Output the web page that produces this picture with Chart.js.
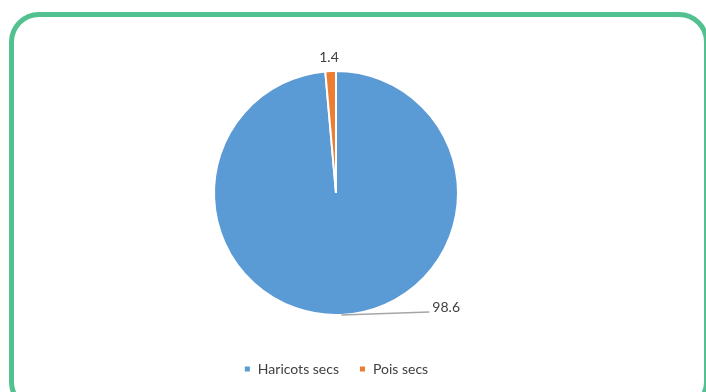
<!DOCTYPE html>
<html lang="fr">
<head>
<meta charset="UTF-8">
<title>Haricots secs / Pois secs</title>
<script src="https://cdn.jsdelivr.net/npm/chart.js"></script>
<style>
    body {
        margin: 0;
        padding: 0;
        background: #fff;
        width: 706px;
        height: 392px;
        overflow: hidden;
        position: relative;
    }
    .cadre {
        position: absolute;
        left: 9px;
        top: 12px;
        width: 700px;
        height: 400px;
        border: 5px solid #52C18F;
        border-radius: 30px;
        box-sizing: border-box;
    }
    #graph {
        position: absolute;
        left: 0;
        top: 0;
    }
</style>
</head>
<body>
<div class="cadre"></div>
<canvas id="graph" width="706" height="392"></canvas>
<script>
    // Données
    var categories = ['Haricots secs', 'Pois secs'];
    var valeurs = [98.6, 1.4];
    var couleurs = ['#5B9BD5', '#ED7D31'];

    var police = 'Lato, "Open Sans", sans-serif';
    var gris = '#404040';

    // Étiquettes de données (valeurs à l'extérieur du camembert)
    var etiquettes = {
        id: 'etiquettes',
        afterDatasetsDraw: function(chart) {
            var ctx = chart.ctx;
            var meta = chart.getDatasetMeta(0);
            ctx.save();
            ctx.font = '14px ' + police;
            ctx.fillStyle = gris;
            meta.data.forEach(function(arc, i) {
                var p = arc.getProps(['x', 'y', 'startAngle', 'endAngle', 'outerRadius'], true);
                var a = (p.startAngle + p.endAngle) / 2;
                var texte = String(valeurs[i]);
                if (p.endAngle - p.startAngle > Math.PI) {
                    // grande part : ligne de rappel vers la droite
                    var x0 = p.x + Math.cos(a) * p.outerRadius;
                    var y0 = p.y + Math.sin(a) * p.outerRadius;
                    ctx.strokeStyle = '#A6A6A6';
                    ctx.lineWidth = 1.5;
                    ctx.beginPath();
                    ctx.moveTo(x0, y0);
                    ctx.lineTo(x0 + 88, y0 - 3);
                    ctx.stroke();
                    ctx.textAlign = 'left';
                    ctx.textBaseline = 'middle';
                    ctx.fillText(texte, x0 + 91, y0 - 7);
                } else {
                    var r = p.outerRadius + 14;
                    ctx.textAlign = 'center';
                    ctx.textBaseline = 'middle';
                    ctx.fillText(texte, p.x + Math.cos(a) * r - 1, p.y + Math.sin(a) * r);
                }
            });
            ctx.restore();
        }
    };

    var ctx = document.getElementById('graph').getContext('2d');
    var graph = new Chart(ctx, {
        type: 'pie',
        data: {
            labels: categories,
            datasets: [{
                data: valeurs,
                backgroundColor: couleurs,
                borderColor: '#ffffff',
                borderWidth: 2
            }]
        },
        options: {
            responsive: false,
            animation: false,
            radius: 122,
            layout: {
                padding: { left: 0, right: 34, top: 44, bottom: 6 }
            },
            plugins: {
                legend: {
                    position: 'bottom',
                    labels: {
                        boxWidth: 7,
                        boxHeight: 7,
                        padding: 20,
                        color: gris,
                        font: { family: police, size: 14 }
                    }
                },
                tooltip: { enabled: false }
            }
        },
        plugins: [etiquettes]
    });
</script>
</body>
</html>
